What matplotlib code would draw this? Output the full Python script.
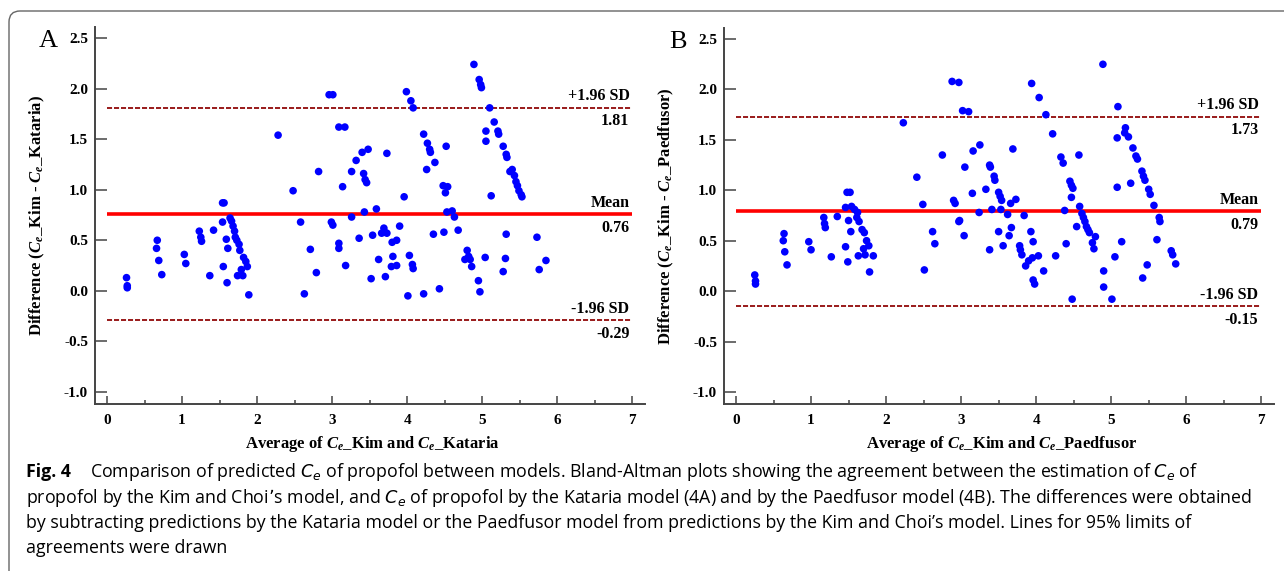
import numpy as np
import matplotlib
matplotlib.use("Agg")
import matplotlib.pyplot as plt
from matplotlib.patches import FancyBboxPatch
from matplotlib.transforms import IdentityTransform

# Bland-Altman data
# panel A: Kim vs Kataria
avg_kat = [0.26, 0.27, 0.27, 0.67, 0.66, 0.69, 0.73, 1.03, 1.05, 1.23, 1.25, 1.26,
           1.37, 1.42, 1.54, 1.56, 1.54, 1.55, 1.59, 1.60, 1.61, 1.64, 1.66, 1.68,
           1.70, 1.71, 1.73, 1.74, 1.76, 1.77, 1.79, 1.81, 1.82, 1.85, 1.87, 1.89,
           2.28, 2.48, 2.58, 2.63, 2.71, 2.79, 2.82, 2.96, 3.01, 2.99, 3.01, 3.09,
           3.17, 3.09, 3.09, 3.14, 3.18, 3.26, 3.26, 3.32, 3.36, 3.40, 3.42, 3.44,
           3.46, 3.43, 3.48, 3.52, 3.54, 3.59, 3.62, 3.66, 3.69, 3.70, 3.73, 3.71,
           3.73, 3.79, 3.80, 3.81, 3.86, 3.86, 3.90, 3.96, 3.99, 4.01, 4.03, 4.05,
           4.08, 4.07, 4.08, 4.22, 4.22, 4.26, 4.27, 4.30, 4.31, 4.37, 4.35, 4.43,
           4.48, 4.49, 4.51, 4.52, 4.54, 4.53, 4.60, 4.63, 4.68, 4.77, 4.80, 4.82,
           4.84, 4.86, 4.89, 4.95, 4.96, 4.98, 4.99, 4.97, 5.05, 5.05, 5.04, 5.10,
           5.12, 5.16, 5.21, 5.22, 5.28, 5.28, 5.32, 5.33, 5.31, 5.32, 5.37, 5.40,
           5.43, 5.45, 5.47, 5.49, 5.52, 5.53, 5.73, 5.76, 5.85]
diff_kat = [0.13, 0.05, 0.03, 0.50, 0.42, 0.30, 0.16, 0.36, 0.27, 0.59, 0.53, 0.49,
            0.15, 0.60, 0.87, 0.87, 0.68, 0.24, 0.51, 0.08, 0.42, 0.72, 0.69, 0.64,
            0.59, 0.53, 0.50, 0.15, 0.46, 0.40, 0.21, 0.15, 0.33, 0.29, 0.24, -0.04,
            1.54, 0.99, 0.68, -0.03, 0.41, 0.18, 1.18, 1.94, 1.94, 0.68, 0.65, 1.62,
            1.62, 0.47, 0.42, 1.03, 0.25, 1.18, 0.73, 1.29, 0.52, 1.37, 1.16, 1.10,
            1.07, 0.78, 1.40, 0.12, 0.55, 0.81, 0.31, 0.57, 0.62, 0.58, 0.57, 0.14,
            1.36, 0.24, 0.48, 0.34, 0.50, 0.25, 0.64, 0.93, 1.97, -0.05, 0.35, 1.88,
            1.81, 0.26, 0.22, -0.03, 1.55, 1.20, 1.46, 1.40, 1.37, 1.27, 0.56, 0.02,
            1.04, 0.58, 0.97, 1.43, 1.03, 0.78, 0.79, 0.73, 0.60, 0.31, 0.40, 0.34,
            0.31, 0.24, 2.24, 0.10, 2.09, 2.04, 2.01, -0.01, 1.58, 1.48, 0.33, 1.81,
            0.94, 1.67, 1.58, 1.55, 1.43, 0.19, 1.35, 1.32, 0.32, 0.56, 1.18, 1.20,
            1.14, 1.08, 1.04, 0.99, 0.95, 0.93, 0.53, 0.21, 0.30]
stats_kat = {"mean": 0.76, "upper": 1.81, "lower": -0.29}

# panel B: Kim vs Paedfusor
avg_pae = [0.25, 0.26, 0.26, 0.64, 0.63, 0.65, 0.68, 0.97, 1.00, 1.17, 1.18, 1.19,
           1.27, 1.35, 1.46, 1.48, 1.52, 1.46, 1.50, 1.49, 1.53, 1.54, 1.58, 1.61,
           1.63, 1.64, 1.62, 1.68, 1.71, 1.70, 1.72, 1.74, 1.77, 1.78, 1.83, 2.23,
           2.41, 2.49, 2.51, 2.62, 2.65, 2.75, 2.88, 2.97, 2.90, 2.92, 2.97, 2.98,
           3.02, 3.10, 3.04, 3.05, 3.15, 3.16, 3.25, 3.24, 3.33, 3.38, 3.38, 3.39,
           3.41, 3.44, 3.45, 3.50, 3.50, 3.52, 3.54, 3.53, 3.56, 3.62, 3.64, 3.66,
           3.67, 3.69, 3.73, 3.78, 3.79, 3.81, 3.84, 3.86, 3.90, 3.93, 3.94, 3.95,
           3.96, 3.96, 3.98, 4.03, 4.04, 4.10, 4.13, 4.22, 4.26, 4.33, 4.36, 4.38,
           4.40, 4.45, 4.47, 4.49, 4.47, 4.48, 4.54, 4.57, 4.58, 4.61, 4.63, 4.65,
           4.67, 4.69, 4.71, 4.75, 4.77, 4.79, 4.89, 4.90, 4.90, 5.01, 5.05, 5.08,
           5.08, 5.09, 5.14, 5.18, 5.19, 5.23, 5.26, 5.29, 5.33, 5.35, 5.41, 5.43,
           5.45, 5.42, 5.48, 5.50, 5.52, 5.57, 5.61, 5.64, 5.65, 5.80, 5.82, 5.86]
diff_pae = [0.16, 0.10, 0.07, 0.57, 0.50, 0.39, 0.26, 0.49, 0.41, 0.73, 0.67, 0.63,
            0.34, 0.74, 0.44, 0.98, 0.98, 0.83, 0.70, 0.29, 0.59, 0.84, 0.81, 0.73,
            0.35, 0.69, 0.78, 0.61, 0.58, 0.42, 0.36, 0.50, 0.45, 0.19, 0.35, 1.67,
            1.13, 0.86, 0.21, 0.59, 0.47, 1.35, 2.08, 2.07, 0.90, 0.87, 0.69, 0.70,
            1.79, 1.78, 0.55, 1.23, 0.97, 1.39, 1.45, 0.78, 1.01, 0.41, 1.25, 1.23,
            0.81, 1.14, 1.10, 0.59, 0.98, 0.94, 0.90, 0.81, 0.45, 0.76, 0.55, 0.87,
            0.63, 1.41, 0.91, 0.45, 0.41, 0.36, 0.75, 0.25, 0.30, 0.59, 2.06, 0.33,
            0.49, 0.11, 0.07, 0.35, 1.92, 0.20, 1.75, 1.56, 0.35, 1.33, 1.27, 0.80,
            0.47, 1.09, 1.05, 1.02, 0.93, -0.08, 0.64, 1.35, 0.84, 0.77, 0.73, 0.69,
            0.64, 0.61, 0.58, 0.48, 0.42, 0.54, 2.25, 0.20, 0.04, -0.08, 0.34, 1.03,
            1.52, 1.83, 0.49, 1.57, 1.62, 1.53, 1.07, 1.42, 1.34, 1.31, 1.19, 1.14,
            1.10, 0.13, 0.26, 1.01, 0.96, 0.85, 0.51, 0.73, 0.69, 0.40, 0.36, 0.27]
stats_pae = {"mean": 0.79, "upper": 1.73, "lower": -0.15}

y_ticks = [-1.0, -0.5, 0.0, 0.5, 1.0, 1.5, 2.0, 2.5]
x_ticks = [0, 1, 2, 3, 4, 5, 6, 7]

plt.rcParams["font.family"] = ["Liberation Serif", "DejaVu Serif"]
plt.rcParams["mathtext.fontset"] = "custom"
plt.rcParams["mathtext.rm"] = "Liberation Serif:bold"
plt.rcParams["mathtext.bf"] = "Liberation Serif:bold"
plt.rcParams["mathtext.it"] = "Liberation Serif:italic:bold"

W, H = 1284, 571
fig = plt.figure(figsize=(W / 100, H / 100), dpi=100)


def frac(x0, y0, x1, y1):
    # pixel box (top-left origin) -> figure fraction rect
    return [x0 / W, 1 - y1 / H, (x1 - x0) / W, (y1 - y0) / H]


def bland_altman(ax, x, y, st, xlabel, ylabel, letter):
    ax.scatter(x, y, s=30, c="#0000ff", edgecolors="none", zorder=3)
    ax.hlines(st["mean"], 0, 7, color="#ff0000", lw=2.6, zorder=2)
    ax.hlines([st["upper"], st["lower"]], 0, 7, colors="#991a1a", lw=1.4,
              linestyles=(0, (2.6, 1.0)), zorder=2)

    for key, top in (("upper", "+1.96 SD"), ("mean", "Mean"), ("lower", "-1.96 SD")):
        v = st[key]
        ax.annotate(top, xy=(7, v), xytext=(-2, 2.5), textcoords="offset points",
                    ha="right", va="bottom", fontsize=11.5, fontweight="bold")
        ax.annotate(f"{v:.2f}", xy=(7, v), xytext=(-2, -4), textcoords="offset points",
                    ha="right", va="top", fontsize=11.5, fontweight="bold")

    ax.set_xlim(-0.16, 7.17)
    ax.set_ylim(-1.12, 2.61)
    ax.set_xticks(x_ticks)
    ax.set_xticklabels([str(t) for t in x_ticks], fontweight="bold")
    ax.set_xticks([t + 0.5 for t in x_ticks[:-1]], minor=True)
    ax.set_yticks(y_ticks)
    ax.set_yticklabels([f"{t:.1f}" for t in y_ticks], fontweight="bold")
    ax.tick_params(axis="y", direction="in", length=8.6, width=1.1, pad=5,
                   labelsize=11, color="#444444")
    ax.tick_params(axis="x", which="major", direction="in", length=6, width=1.1,
                   pad=7, labelsize=11, color="#444444")
    ax.tick_params(axis="x", which="minor", direction="in", length=3, width=1.1,
                   color="#444444")
    for s in ("top", "right"):
        ax.spines[s].set_visible(False)
    for s in ("left", "bottom"):
        ax.spines[s].set_color("#444444")
        ax.spines[s].set_linewidth(1.4)

    ax.set_xlabel(xlabel, fontsize=12, fontweight="bold")
    ax.xaxis.set_label_coords(0.504, -0.08)
    ax.set_ylabel(ylabel, fontsize=12, fontweight="bold")
    ax.yaxis.set_label_coords(-0.088, 0.5)
    ax.text(-0.068, (404 - 47) / 377, letter, transform=ax.transAxes, fontsize=19,
            fontweight="normal", ha="right", va="baseline")


axA = fig.add_axes(frac(95, 27, 645, 404))
bland_altman(axA, avg_kat, diff_kat, stats_kat,
             r"Average of $C_e$_Kim and $C_e$_Kataria",
             r"Difference ($C_e$_Kim - $C_e$_Kataria)", "A")

axB = fig.add_axes(frac(724, 28, 1274, 404))
bland_altman(axB, avg_pae, diff_pae, stats_pae,
             r"Average of $C_e$_Kim and $C_e$_Paedfusor",
             r"Difference ($C_e$_Kim - $C_e$_Paedfusor)", "B")

# rounded frame around figure + caption
frame = FancyBboxPatch((9, -49), 1291, 609, boxstyle="round,pad=0,rounding_size=11",
                       transform=IdentityTransform(), fill=False,
                       edgecolor="#666666", lw=1.0)
fig.add_artist(frame)

cap_font = ["Open Sans", "DejaVu Sans"]
cap_lines = [
    r"Comparison of predicted $C_e$ of propofol between models. Bland-Altman plots showing the agreement between the estimation of $C_e$ of",
    r"propofol by the Kim and Choi’s model, and $C_e$ of propofol by the Kataria model (4A) and by the Paedfusor model (4B). The differences were obtained",
    "by subtracting predictions by the Kataria model or the Paedfusor model from predictions by the Kim and Choi’s model. Lines for 95% limits of",
    "agreements were drawn",
]
cap_y = [472, 498, 523, 548]
cap_size = 12.8
fig.text(26 / W, 1 - cap_y[0] / H, "Fig. 4", family=cap_font, fontweight="bold",
         fontsize=cap_size, va="center")
for i, (line, yy) in enumerate(zip(cap_lines, cap_y)):
    x0 = 90 if i == 0 else 26
    fig.text(x0 / W, 1 - yy / H, line, family=cap_font, fontweight="normal",
             fontsize=cap_size, va="center", math_fontfamily="dejavusans")

fig.savefig("out.png", dpi=100)
